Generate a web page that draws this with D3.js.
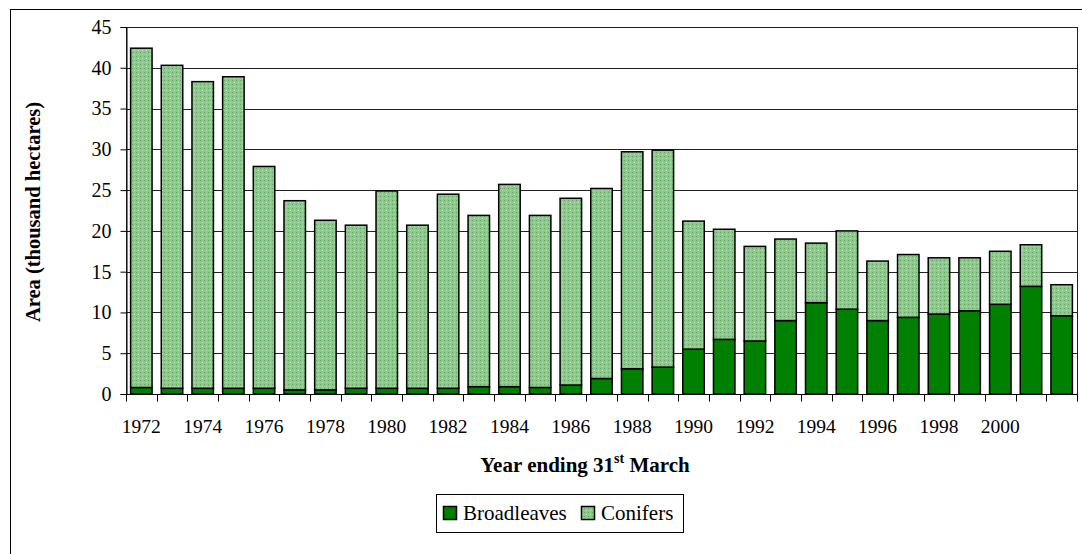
<!DOCTYPE html>
<html>
<head>
<meta charset="utf-8">
<script src="https://cdn.jsdelivr.net/npm/d3@7"></script>
<style>
    body { margin: 0; background: #fff; }
    text { font-family: "Liberation Serif", "DejaVu Serif", serif; }
</style>
</head>
<body>
<div id="chart"></div>
<script>
// Data (thousand hectares)
const years = d3.range(1972, 2003);
const broadleaves = [0.8, 0.7, 0.7, 0.7, 0.7, 0.5, 0.5, 0.7, 0.7, 0.7, 0.7, 0.9, 0.9, 0.8, 1.1, 1.9,
    3.1, 3.3, 5.5, 6.7, 6.5, 9.0, 11.2, 10.4, 9.0, 9.4, 9.8, 10.2, 11.0, 13.2, 9.6];
const conifers = [41.6, 39.6, 37.6, 38.2, 27.2, 23.2, 20.8, 20.0, 24.2, 20.0, 23.8, 21.0, 24.8, 21.1, 22.9, 23.3,
    26.6, 26.6, 15.7, 13.5, 11.6, 10.0, 7.3, 9.6, 7.3, 7.7, 6.9, 6.5, 6.5, 5.1, 3.8];
const yTicks = [0, 5, 10, 15, 20, 25, 30, 35, 40, 45];
const xLabels = d3.range(1972, 2001, 2);
const seriesNames = ["Broadleaves", "Conifers"];

const width = 1082;
const height = 554;
const plot = {left: 126, top: 27, right: 1077, bottom: 394};

const svgRoot = d3.select("#chart")
    .append("svg")
    .attr("width", width)
    .attr("height", height);

// dotted fill used for conifers
const defs = svgRoot.append("defs");
const pat = defs.append("pattern")
    .attr("id", "dots")
    .attr("width", 4)
    .attr("height", 4)
    .attr("patternUnits", "userSpaceOnUse");
pat.append("rect").attr("width", 4).attr("height", 4).attr("fill", "#8dc98d");
pat.append("rect").attr("x", 0).attr("y", 0).attr("width", 1).attr("height", 1).attr("fill", "#5ca95c");
pat.append("rect").attr("x", 2).attr("y", 2).attr("width", 1).attr("height", 1).attr("fill", "#bde2bd");

const svg = svgRoot.append("g");

// outer chart frame (runs off the picture on right/bottom)
svg.append("rect")
    .attr("x", 10.5)
    .attr("y", 9.5)
    .attr("width", width)
    .attr("height", height)
    .attr("fill", "none")
    .attr("stroke", "#000")
    .attr("stroke-width", 1);

const x = d3.scaleBand()
    .domain(years)
    .range([plot.left, plot.right])
    .paddingInner(0.3)
    .paddingOuter(0.15);

const y = d3.scaleLinear()
    .domain([0, 45])
    .range([plot.bottom, plot.top]);

// gridlines
svg.append("g")
    .selectAll("line")
    .data(yTicks)
    .join("line")
    .attr("x1", plot.left)
    .attr("x2", plot.right)
    .attr("y1", d => Math.round(y(d)) + 0.5)
    .attr("y2", d => Math.round(y(d)) + 0.5)
    .attr("stroke", "#222")
    .attr("stroke-width", 1);

// plot area border
svg.append("rect")
    .attr("x", plot.left + 0.5)
    .attr("y", Math.round(y(45)) + 0.5)
    .attr("width", plot.right - plot.left)
    .attr("height", Math.round(y(0)) - Math.round(y(45)))
    .attr("fill", "none")
    .attr("stroke", "#222");

// stacked bars
const rows = years.map((yr, i) => ({year: yr, Broadleaves: broadleaves[i], Conifers: conifers[i]}));
const stacked = d3.stack().keys(seriesNames)(rows);
const fills = {Broadleaves: "#008000", Conifers: "url(#dots)"};

svg.append("g")
    .selectAll("g")
    .data(stacked)
    .join("g")
    .attr("fill", d => fills[d.key])
    .selectAll("rect")
    .data(d => d)
    .join("rect")
    .attr("x", d => x(d.data.year))
    .attr("y", d => y(d[1]))
    .attr("width", x.bandwidth())
    .attr("height", d => y(d[0]) - y(d[1]))
    .attr("stroke", "#000")
    .attr("stroke-width", 1.5);

// y axis
const yAxis = svg.append("g")
    .attr("transform", `translate(${plot.left + 0.5},0)`)
    .call(d3.axisLeft(y).tickValues(yTicks).tickSize(6).tickPadding(9));
yAxis.select(".domain").attr("stroke", "#000");
yAxis.selectAll(".tick line").attr("stroke", "#000");
yAxis.selectAll("text")
    .attr("fill", "#000")
    .style("font-size", "20px")
    .style("font-family", "Liberation Serif");

// x axis: ticks sit between categories, labels every second year
const xAxis = svg.append("g")
    .attr("transform", `translate(0,${Math.round(y(0)) + 0.5})`);
xAxis.append("line")
    .attr("x1", plot.left)
    .attr("x2", plot.right)
    .attr("stroke", "#000");
xAxis.selectAll("line.tk")
    .data(years.concat([null]))
    .join("line")
    .attr("class", "tk")
    .attr("x1", (d, i) => Math.round(plot.left + x.step() * i) + 0.5)
    .attr("x2", (d, i) => Math.round(plot.left + x.step() * i) + 0.5)
    .attr("y1", 0)
    .attr("y2", 7)
    .attr("stroke", "#000");
xAxis.selectAll("text")
    .data(xLabels)
    .join("text")
    .attr("x", d => x(d) + x.bandwidth() / 2)
    .attr("y", 38)
    .attr("text-anchor", "middle")
    .style("font-size", "19.5px")
    .style("fill", "#000")
    .text(d => d);

// axis titles
const xTitle = svg.append("text")
    .attr("x", 585)
    .attr("y", 472)
    .attr("text-anchor", "middle")
    .style("font-size", "21px")
    .style("font-weight", "bold");
xTitle.append("tspan").text("Year ending 31");
xTitle.append("tspan").attr("dy", -9).style("font-size", "14px").text("st");
xTitle.append("tspan").attr("dy", 9).text(" March");

svg.append("text")
    .attr("transform", "translate(40,212) rotate(-90)")
    .attr("text-anchor", "middle")
    .style("font-size", "20.5px")
    .style("font-weight", "bold")
    .text("Area (thousand hectares)");

// legend
const legend = svg.append("g");
legend.append("rect")
    .attr("x", 436.5)
    .attr("y", 494.5)
    .attr("width", 247)
    .attr("height", 38)
    .attr("fill", "#fff")
    .attr("stroke", "#000");
const legendX = [443, 581];
seriesNames.forEach((name, i) => {
    legend.append("rect")
        .attr("x", legendX[i] + 0.5)
        .attr("y", 506.5)
        .attr("width", 13)
        .attr("height", 13)
        .attr("fill", fills[name])
        .attr("stroke", "#000")
        .attr("stroke-width", 1.5);
    legend.append("text")
        .attr("x", legendX[i] + 20)
        .attr("y", 520)
        .style("font-size", "21px")
        .style("fill", "#000")
        .text(name);
});
</script>
</body>
</html>
